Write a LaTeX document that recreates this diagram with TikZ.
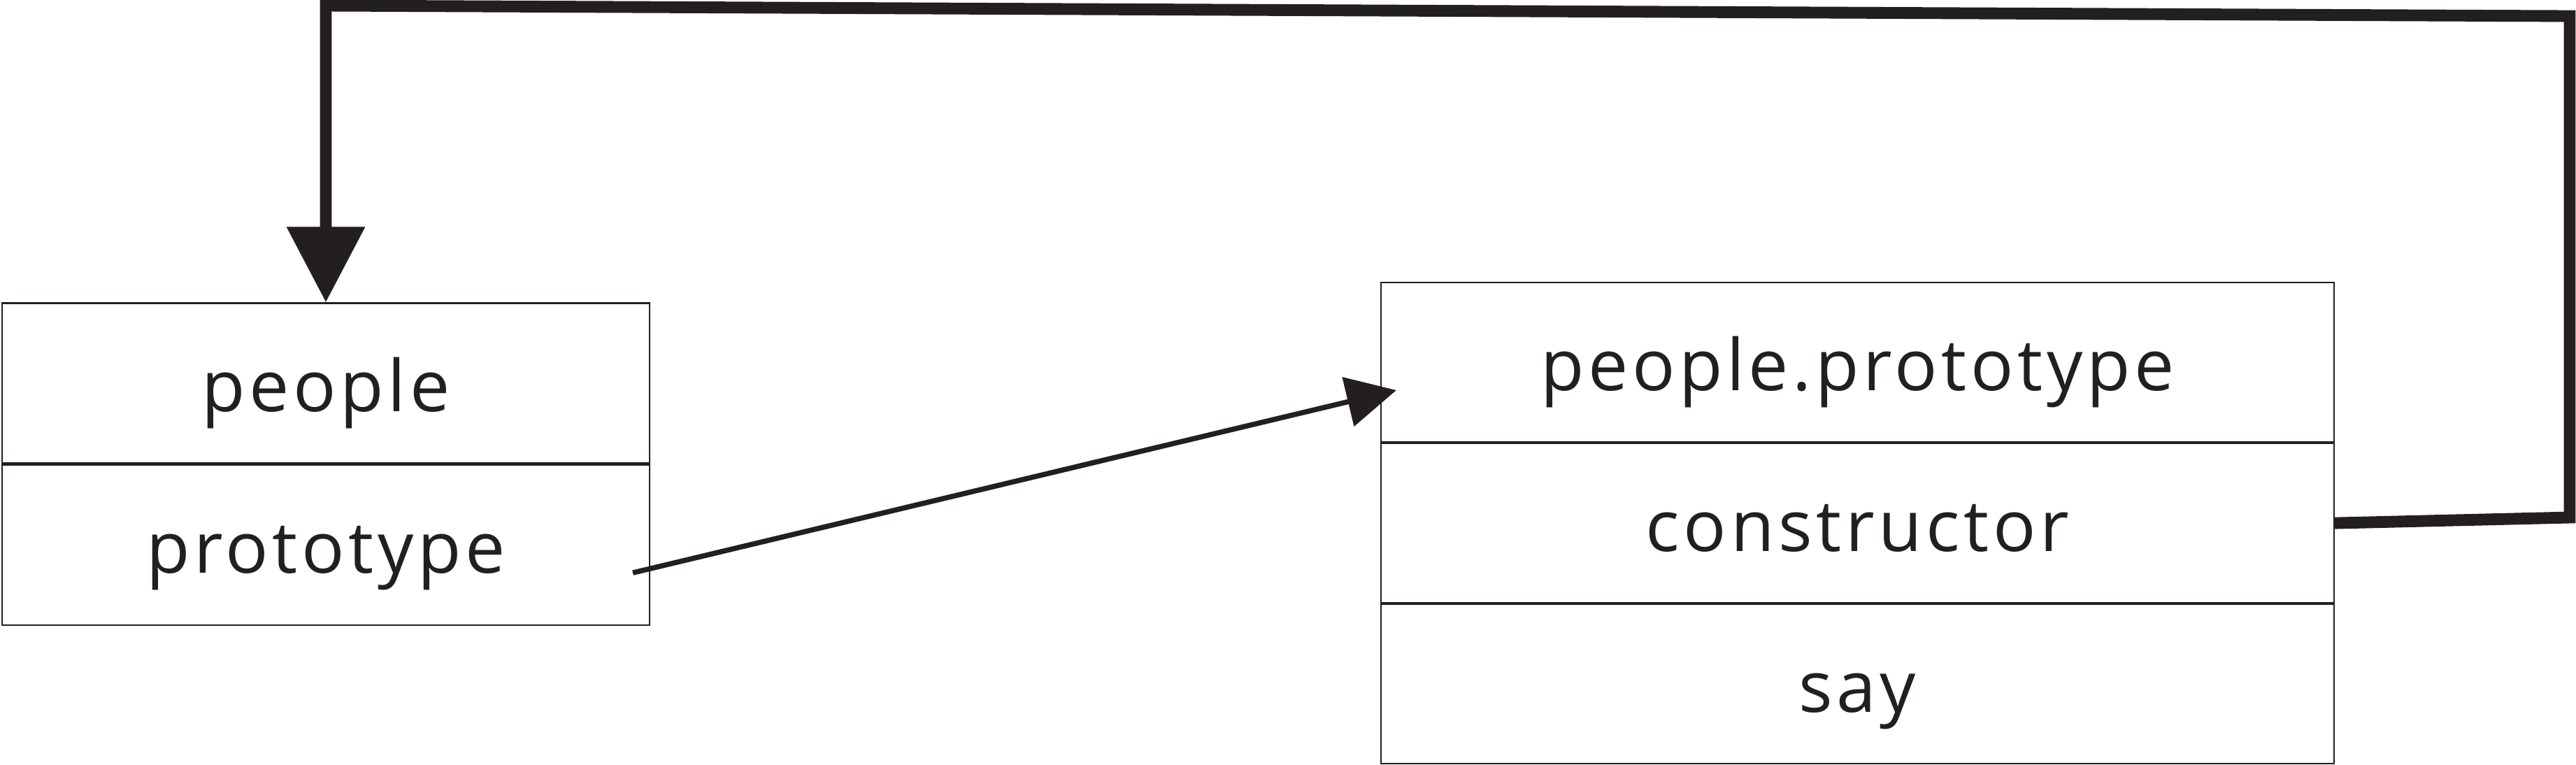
\documentclass[tikz,border=0pt]{standalone}
\usepackage{fontspec}
\setmainfont{Open Sans}[LetterSpace=5.5]
\usetikzlibrary{arrows.meta,positioning}
\definecolor{ink}{RGB}{35,31,32}
\tikzset{
  cell/.style={draw=ink, text=ink, line width=0.6pt, inner sep=0pt,
    minimum height=2.29cm, text height=1.05cm, text depth=0.25cm,
    font=\fontsize{29pt}{34pt}\selectfont},
  leftcell/.style={cell, minimum width=9.26cm},
  rightcell/.style={cell, minimum width=13.63cm, minimum height=2.28cm},
}

\begin{document}
\begin{tikzpicture}
    \useasboundingbox (0,0) rectangle (36.84,-10.93);

    % Left object
    \node[leftcell] (people) at (4.66,-5.48) {people};
    \node[leftcell, below=0pt of people] (proto) {prototype};

    % Prototype object
    \node[rightcell] (pp) at (26.565,-5.18) {people.prototype};
    \node[rightcell, below=0pt of pp] (ctor) {constructor};
    \node[rightcell, below=0pt of ctor] (say) {say};

    % prototype -> people.prototype
    \coordinate (from) at ([xshift=-0.25cm, yshift=-0.4cm]proto.east);
    \coordinate (to) at ([xshift=0.23cm, yshift=-0.4cm]pp.west);
    \draw[ink, line width=2.1pt, -{Triangle[length=0.71cm, width=0.71cm]}] (from) -- (to);

    % constructor -> people (loop over the top)
    \coordinate (c1) at (36.75,-7.40);
    \coordinate (c2) at (36.75,-0.23);
    \coordinate (c3) at (4.66,-0.08);
    \draw[ink, line width=4.8pt, -{Triangle[length=1.08cm, width=1.08cm]}]
        (ctor.east) -- (c1) -- (c2) -- (c3) -- (people.north);
\end{tikzpicture}
\end{document}
